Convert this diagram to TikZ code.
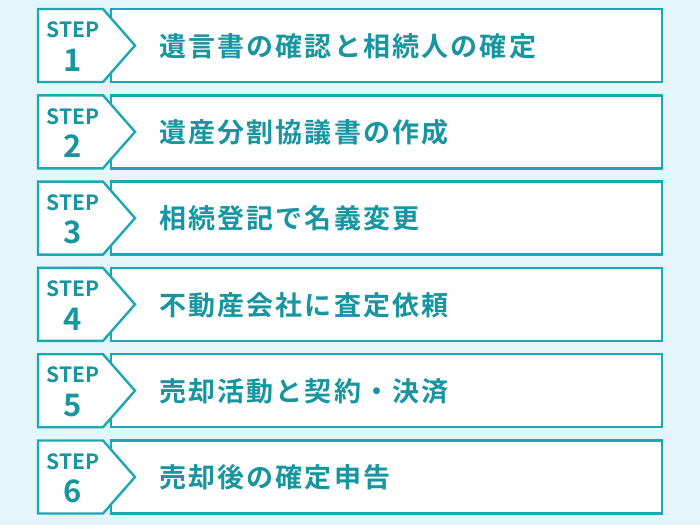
\documentclass[tikz,border=0pt]{standalone}
\usepackage{fontspec}
\newfontfamily\cjk[LetterSpace=8]{Noto Sans CJK JP Bold}
\newfontfamily\stepfont{Noto Sans CJK JP Bold}
\definecolor{bgcyan}{HTML}{E3F6FA}
\definecolor{stepteal}{HTML}{1CA8B3}
\definecolor{txtteal}{HTML}{1795A0}
\tikzset{
  steptag/.style={draw=stepteal, line width=2.4pt, fill=white, line join=miter},
  stepbox/.style={draw=stepteal, line width=2.4pt, fill=white},
  steptext/.style={text=txtteal, font=\cjk\fontsize{27pt}{30pt}\selectfont, anchor=west, inner sep=0pt},
  steplabel/.style={text=txtteal, font=\stepfont\fontsize{21pt}{24pt}\selectfont},
  stepnum/.style={text=txtteal, font=\stepfont\fontsize{31pt}{33pt}\selectfont}
}
\begin{document}
\begin{tikzpicture}[x=1pt, y=-1pt]
  \fill[bgcyan] (0,0) rectangle (700,525);
  \useasboundingbox (0,0) rectangle (700,525);
  \foreach \n/\txt [count=\i from 0] in {1/遺言書の確認と相続人の確定, 2/遺産分割協議書の作成, 3/相続登記で名義変更, 4/不動産会社に査定依頼, 5/売却活動と契約・決済, 6/売却後の確定申告}{
    \pgfmathsetmacro{\top}{9+86.3*\i}
    \draw[stepbox] (111,\top) rectangle (662,\top+73);
    \draw[steptag] (38,\top) -- (103,\top) -- (135,\top+36.5) -- (103,\top+73) -- (38,\top+73) -- cycle;
    \node[steplabel] (label\n) at (73,\top+21) {STEP};
    \node[stepnum] (num\n) at (73,\top+51) {\n};
    \node[steptext] (text\n) at (159,\top+37) {\txt};
  }
\end{tikzpicture}
\end{document}
